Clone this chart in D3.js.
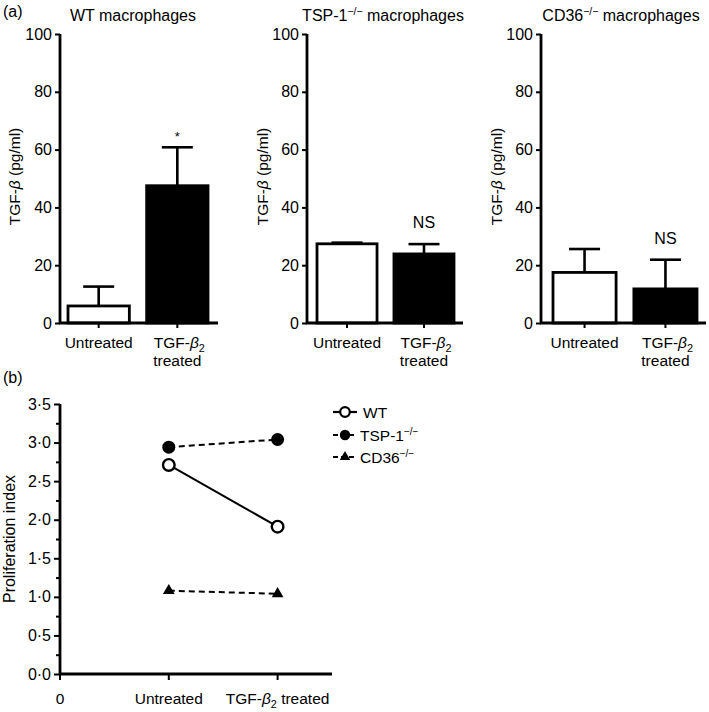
<!DOCTYPE html>
<html><head><meta charset="utf-8">
<script src="https://cdn.jsdelivr.net/npm/d3@7"></script>
<style>body{margin:0;background:#fff}svg{display:block;font-family:"Liberation Sans",Arial,sans-serif}svg text{font-family:"Liberation Sans",Arial,sans-serif}</style>
</head><body><svg id="c" width="709" height="712"></svg>
<script>
// ---- Data ----
const panelTitles = ["WT macrophages", "TSP-1", "CD36"];
const panelTitleSup = [false, true, true];
const barCategories = ["Untreated", "TGF-β2 treated"];
const barMeans = [[5.9, 47.5], [27.4, 23.9], [17.5, 11.8]];
const barErrors = [[12.6, 60.8], [27.8, 27.3], [25.6, 21.9]];
const barAnnot = [["", "*"], ["", "NS"], ["", "NS"]];
const barTicks = [0, 20, 40, 60, 80, 100];

const lineCategories = ["Untreated", "TGF-β2 treated"];
const lineSeries = ["WT", "TSP-1", "CD36"];
const wtValues = [2.71, 1.91];
const tspValues = [2.94, 3.04];
const cd36Values = [1.08, 1.04];
const lineTicks = [0, 0.5, 1, 1.5, 2, 2.5, 3, 3.5];

const svg = d3.select("#c");
const AX = 2.8;
const FS = 16;

// ---- panel (a) ----
const panels = [
  {x0: 60, x1: 218, b0: 68, b1: 208, lab: 20, tx: 133},
  {x0: 307, x1: 463, b0: 317, b1: 454, lab: 268, tx: 383},
  {x0: 541, x1: 706, b0: 553, b1: 697, lab: 502, tx: 621}
];
const y = d3.scaleLinear().domain([0, 100]).range([323, 34]);

svg.append("text").attr("x", 3).attr("y", 17).attr("font-size", FS).text("(a)");

function addTitle(g, x, yy, main, sup, size) {
  const t = g.append("text").attr("x", x).attr("y", yy).attr("text-anchor", "middle").attr("font-size", size);
  if (!sup) { t.text(main); return t; }
  t.append("tspan").text(main);
  t.append("tspan").attr("font-size", size * 0.65).attr("dy", -6).text("−/−");
  t.append("tspan").attr("dy", 6).text(" macrophages");
  return t;
}

function addTgfLabel(g, x, yy, size, two) {
  const t = g.append("text").attr("x", x).attr("y", yy).attr("text-anchor", "middle").attr("font-size", size);
  t.append("tspan").text("TGF-");
  t.append("tspan").attr("font-style", "italic").text("β");
  t.append("tspan").attr("font-size", size * 0.7).attr("dy", 4).text("2");
  if (two) t.append("tspan").attr("dy", -4).text(" treated");
  return t;
}

function styleAxis(a) {
  a.attr("font-size", FS).attr("font-family", "Liberation Sans, Arial, sans-serif");
  a.selectAll(".tick line").attr("stroke-width", 2);
  a.selectAll(".tick text").attr("font-size", FS);
}

panels.forEach((p, i) => {
  const g = svg.append("g");
  const x = d3.scaleBand().domain(barCategories).range([p.b0, p.b1]).paddingInner(0.22).paddingOuter(0);
  barCategories.forEach((c, j) => {
    const bx = x(c), bw = x.bandwidth();
    const cx = bx + bw / 2;
    g.append("line").attr("x1", cx).attr("x2", cx).attr("y1", y(barMeans[i][j])).attr("y2", y(barErrors[i][j]))
      .attr("stroke", "#000").attr("stroke-width", 2.6);
    g.append("line").attr("x1", cx - 15.5).attr("x2", cx + 15.5).attr("y1", y(barErrors[i][j])).attr("y2", y(barErrors[i][j]))
      .attr("stroke", "#000").attr("stroke-width", 2.6);
    g.append("rect").attr("x", bx).attr("y", y(barMeans[i][j])).attr("width", bw).attr("height", y(0) - y(barMeans[i][j]))
      .attr("fill", j === 0 ? "#fff" : "#000").attr("stroke", "#000").attr("stroke-width", 2.8);
    if (barAnnot[i][j]) {
      const star = barAnnot[i][j] === "*";
      g.append("text").attr("x", cx).attr("y", star ? y(barErrors[i][j]) - 6 : y(barErrors[i][j]) - 16)
        .attr("text-anchor", "middle").attr("font-size", star ? 13 : FS).text(barAnnot[i][j]);
    }
    g.append("line").attr("x1", cx).attr("x2", cx).attr("y1", y(0)).attr("y2", y(0) + 5).attr("stroke", "#000").attr("stroke-width", 2);
    if (j === 0) {
      g.append("text").attr("x", cx).attr("y", 348).attr("text-anchor", "middle").attr("font-size", 15.5).text("Untreated");
    } else {
      addTgfLabel(g, cx + 2, 348, 15.5, false);
      g.append("text").attr("x", cx).attr("y", 366).attr("text-anchor", "middle").attr("font-size", 15.5).text("treated");
    }
  });
  const ya = g.append("g").attr("transform", `translate(${p.x0},0)`)
    .call(d3.axisLeft(y).tickValues(barTicks).tickSize(5).tickPadding(3).tickFormat(d3.format("d")));
  ya.select(".domain").attr("stroke-width", AX).attr("d", `M0,${y(100)}V${y(0)}`);
  styleAxis(ya);
  g.append("line").attr("x1", p.x0 - 1).attr("x2", p.x1).attr("y1", y(0)).attr("y2", y(0)).attr("stroke", "#000").attr("stroke-width", AX);
  const yl = g.append("text").attr("transform", `translate(${p.lab},${y(50) - 2}) rotate(-90)`).attr("text-anchor", "middle").attr("font-size", 15.5);
  yl.append("tspan").text("TGF-");
  yl.append("tspan").attr("font-style", "italic").text("β");
  yl.append("tspan").text(" (pg/ml)");
  addTitle(g, p.tx, 21, panelTitles[i], panelTitleSup[i], FS);
});

// ---- panel (b) ----
svg.append("text").attr("x", 3).attr("y", 383).attr("font-size", FS).text("(b)");
const gb = svg.append("g");
const yb = d3.scaleLinear().domain([0, 3.5]).range([674, 404]);
const xb = d3.scaleLinear().domain([0, 2.5]).range([60, 332]);

const fmt = d => d.toFixed(1).replace(".", "·");
const yba = gb.append("g").attr("transform", "translate(60,0)")
  .call(d3.axisLeft(yb).tickValues(lineTicks).tickSize(6).tickPadding(3).tickFormat(fmt));
yba.select(".domain").attr("stroke-width", AX).attr("d", `M0,${yb(3.5)}V${yb(0)}`);
styleAxis(yba);
const minor = d3.range(0.25, 3.5, 0.5);
gb.append("g").attr("transform", "translate(60,0)").call(d3.axisLeft(yb).tickValues(minor).tickSize(4).tickFormat(""))
  .call(s => { s.select(".domain").remove(); s.selectAll(".tick line").attr("stroke-width", 2); });

gb.append("line").attr("x1", 59).attr("x2", 332).attr("y1", yb(0)).attr("y2", yb(0)).attr("stroke", "#000").attr("stroke-width", AX);
[0, 1, 2].forEach(v => {
  gb.append("line").attr("x1", xb(v)).attr("x2", xb(v)).attr("y1", yb(0)).attr("y2", yb(0) + 6).attr("stroke", "#000").attr("stroke-width", 2);
});
gb.append("text").attr("x", xb(0)).attr("y", 704).attr("text-anchor", "middle").attr("font-size", 15.5).text("0");
gb.append("text").attr("x", xb(1)).attr("y", 704).attr("text-anchor", "middle").attr("font-size", 15.5).text(lineCategories[0]);
addTgfLabel(gb, xb(2), 704, 15.5, true);

gb.append("text").attr("transform", `translate(15,${yb(1.75)}) rotate(-90)`).attr("text-anchor", "middle").attr("font-size", 16).text("Proliferation index");

const seriesData = [
  {name: lineSeries[0], vals: wtValues, dash: null, marker: "open"},
  {name: lineSeries[1], vals: tspValues, dash: "6,4", marker: "filled"},
  {name: lineSeries[2], vals: cd36Values, dash: "6,4", marker: "tri"}
];
const line = d3.line().x((d, i) => xb(i + 1)).y(d => yb(d));
const tri = d3.symbol().type(d3.symbolTriangle).size(60);
function marker(g, type, cx, cy) {
  if (type === "open") g.append("circle").attr("cx", cx).attr("cy", cy).attr("r", 5.8).attr("fill", "#fff").attr("stroke", "#000").attr("stroke-width", 2.4);
  else if (type === "filled") g.append("circle").attr("cx", cx).attr("cy", cy).attr("r", 6.5).attr("fill", "#000");
  else g.append("path").attr("d", tri).attr("transform", `translate(${cx},${cy})`).attr("fill", "#000");
}
seriesData.forEach(s => {
  gb.append("path").datum(s.vals).attr("d", line).attr("fill", "none").attr("stroke", "#000").attr("stroke-width", 2)
    .attr("stroke-dasharray", s.dash);
  s.vals.forEach((v, i) => marker(gb, s.marker, xb(i + 1), yb(v)));
});

const legY = [412, 435, 457];
seriesData.forEach((s, i) => {
  const ly = legY[i];
  gb.append("line").attr("x1", 333).attr("x2", 357).attr("y1", ly).attr("y2", ly).attr("stroke", "#000").attr("stroke-width", 2.2)
    .attr("stroke-dasharray", s.dash ? "5,3" : null);
  if (s.marker === "open") gb.append("circle").attr("cx", 345).attr("cy", ly).attr("r", 4.8).attr("fill", "#fff").attr("stroke", "#000").attr("stroke-width", 2.2);
  else if (s.marker === "filled") gb.append("circle").attr("cx", 345).attr("cy", ly).attr("r", 5.2).attr("fill", "#000");
  else gb.append("path").attr("d", d3.symbol().type(d3.symbolTriangle).size(48)).attr("transform", `translate(345,${ly})`).attr("fill", "#000");
  const t = gb.append("text").attr("x", i === 0 ? 363 : 360).attr("y", ly + 5.5).attr("font-size", 15.5);
  t.append("tspan").text(s.name);
  if (i > 0) t.append("tspan").attr("font-size", 10).attr("dy", -6).text("−/−");
});
</script></body></html>
